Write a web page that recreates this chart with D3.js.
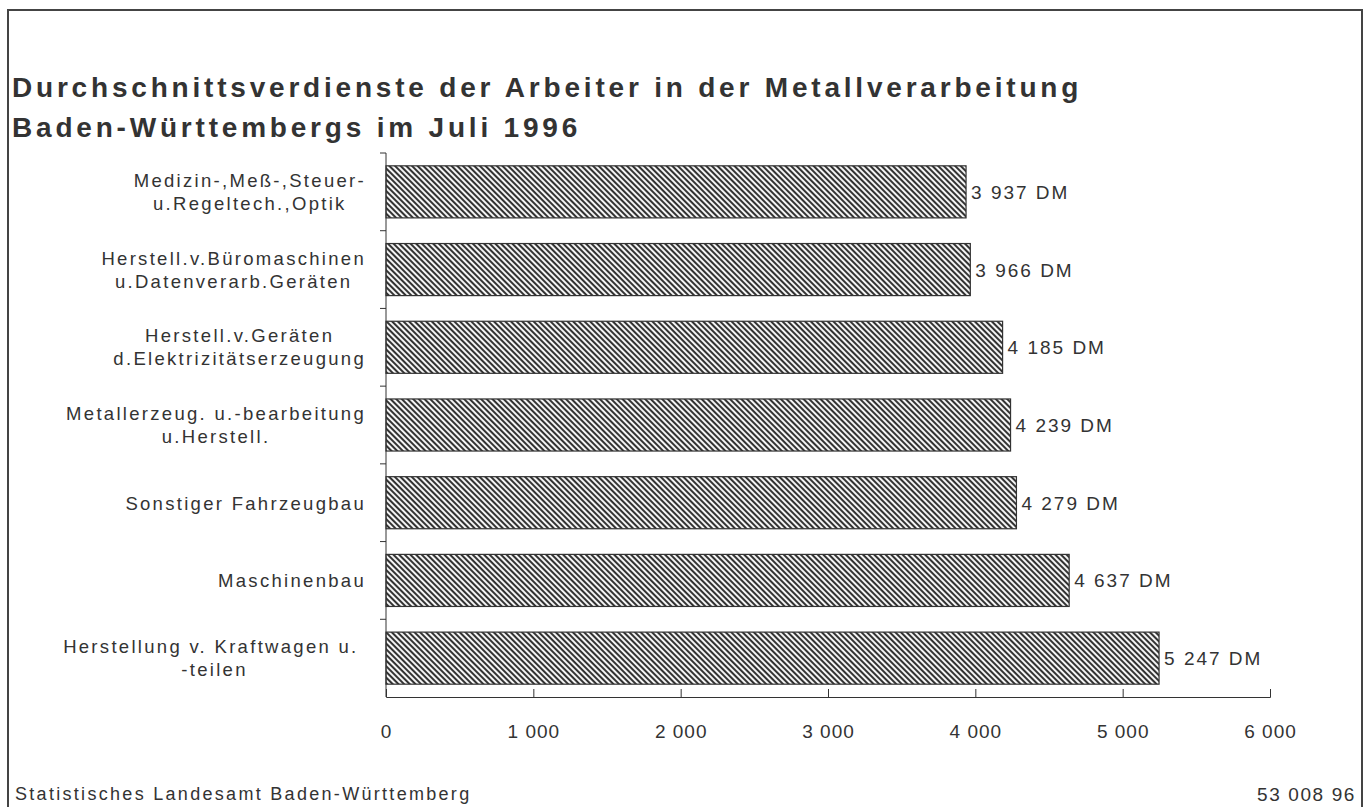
<!DOCTYPE html>
<html lang="de">
	<head>
		<meta charset="utf-8">
		<title>Durchschnittsverdienste der Arbeiter in der Metallverarbeitung</title>
		<script type="text/javascript" src="https://d3js.org/d3.v7.min.js"></script>
		<style type="text/css">
			body{
				margin: 0;
				background: #fff;
			}
			text{
				font-family: "Liberation Sans", Arial, sans-serif;
				fill: #333;
				white-space: pre;
			}
		</style>
	</head>
	<body>
		<script type="text/javascript">

			//Width and height
			var w = 1368;
			var h = 807;

			//Data
			var categories = [
				["Medizin-,Meß-,Steuer-", "u.Regeltech.,Optik"],
				["Herstell.v.Büromaschinen", "u.Datenverarb.Geräten"],
				["Herstell.v.Geräten", "d.Elektrizitätserzeugung"],
				["Metallerzeug. u.-bearbeitung", "u.Herstell."],
				["Sonstiger Fahrzeugbau"],
				["Maschinenbau"],
				["Herstellung v. Kraftwagen u. ", "-teilen"]
			];
			var values = [3937, 3966, 4185, 4239, 4279, 4637, 5247];
			var xTicks = [0, 1000, 2000, 3000, 4000, 5000, 6000];
			var titleLines = ["Durchschnittsverdienste der Arbeiter in der Metallverarbeitung",
			                  "Baden-Württembergs im Juli 1996"];
			var source = "Statistisches Landesamt Baden-Württemberg";
			var code = "53 008 96";

			var fmt = function(v) {
				return d3.format(",")(v).replace(/,/g, " ");
			};

			//Scales
			var xScale = d3.scaleLinear()
						   .domain([0, 6000])
						   .range([386, 1270]);

			var yScale = d3.scaleBand()
						   .domain(d3.range(categories.length))
						   .range([153, 697])
						   .paddingInner(0.33)
						   .paddingOuter(0.165);

			//Create SVG element
			var svg = d3.select("body")
						.append("svg")
						.attr("width", w)
						.attr("height", h);

			//Hatch pattern
			var pat = svg.append("defs")
						 .append("pattern")
						 .attr("id", "hatch")
						 .attr("patternUnits", "userSpaceOnUse")
						 .attr("width", 4)
						 .attr("height", 4)
						 .attr("patternTransform", "rotate(45)");
			pat.append("rect")
			   .attr("width", 4)
			   .attr("height", 4)
			   .attr("fill", "#f4f4f4");
			pat.append("line")
			   .attr("x1", 0).attr("y1", 2)
			   .attr("x2", 4).attr("y2", 2)
			   .attr("stroke", "#333")
			   .attr("stroke-width", 2);

			//Frame
			svg.append("path")
			   .attr("d", "M8,810 L8,10 L1362,10 L1362,810")
			   .attr("fill", "none")
			   .attr("stroke", "#444")
			   .attr("stroke-width", 2);

			//Title
			svg.selectAll("text.title")
			   .data(titleLines)
			   .enter()
			   .append("text")
			   .attr("class", "title")
			   .attr("x", 12)
			   .attr("y", function(d, i) { return 97 + i * 40; })
			   .attr("font-size", "28px")
			   .attr("font-weight", "bold")
			   .attr("letter-spacing", "3.8px")
			   .text(function(d) { return d; });

			//Bars
			svg.selectAll("rect.bar")
			   .data(values)
			   .enter()
			   .append("rect")
			   .attr("class", "bar")
			   .attr("x", xScale(0))
			   .attr("y", function(d, i) { return yScale(i); })
			   .attr("width", function(d) { return xScale(d) - xScale(0); })
			   .attr("height", yScale.bandwidth())
			   .attr("fill", "url(#hatch)")
			   .attr("stroke", "#333")
			   .attr("stroke-width", 1.2);

			//Value labels
			svg.selectAll("text.value")
			   .data(values)
			   .enter()
			   .append("text")
			   .attr("class", "value")
			   .attr("x", function(d) { return xScale(d) + 5; })
			   .attr("y", function(d, i) { return yScale(i) + yScale.bandwidth() / 2 + 7; })
			   .attr("font-size", "19px")
			   .attr("letter-spacing", "2px")
			   .text(function(d) { return fmt(d) + " DM"; });

			//Y axis (ticks on band boundaries)
			var step = yScale.step();
			var yAxis = svg.append("g");
			yAxis.append("line")
				 .attr("x1", xScale(0)).attr("x2", xScale(0))
				 .attr("y1", 153).attr("y2", 697)
				 .attr("stroke", "#333");
			yAxis.selectAll("line.tick")
				 .data(d3.range(categories.length))
				 .enter()
				 .append("line")
				 .attr("class", "tick")
				 .attr("x1", xScale(0) - 6).attr("x2", xScale(0))
				 .attr("y1", function(d) { return 153 + d * step; })
				 .attr("y2", function(d) { return 153 + d * step; })
				 .attr("stroke", "#333");

			//Category labels: block right-aligned, lines centred in block
			var labels = svg.selectAll("g.cat")
							.data(categories)
							.enter()
							.append("g")
							.attr("class", "cat");
			labels.each(function(d, i) {
				var g = d3.select(this);
				var yc = yScale(i) + yScale.bandwidth() / 2;
				var ts = g.selectAll("text")
						  .data(d)
						  .enter()
						  .append("text")
						  .attr("font-size", "18.5px")
						  .attr("letter-spacing", "2.3px")
						  .attr("text-anchor", "middle")
						  .attr("y", function(t, j) {
						  	return d.length === 1 ? yc + 7 : yc - 5 + j * 23;
						  })
						  .text(function(t) { return t; });
				var maxW = 0;
				ts.each(function() { maxW = Math.max(maxW, this.getComputedTextLength()); });
				ts.attr("x", 366 - maxW / 2);
			});

			//X axis
			var xAxis = d3.axisBottom(xScale)
						  .tickValues(xTicks)
						  .tickSize(-8)
						  .tickPadding(28)
						  .tickFormat(fmt);
			var gx = svg.append("g")
						.attr("transform", "translate(0,697)")
						.call(xAxis);
			gx.selectAll("path, line").attr("stroke", "#333");
			gx.selectAll("text")
			  .attr("font-size", "19px")
			  .attr("letter-spacing", "1px")
			  .attr("fill", "#333")
			  .style("font-family", "'Liberation Sans', Arial, sans-serif");

			//Footer
			svg.append("text")
			   .attr("x", 15)
			   .attr("y", 800)
			   .attr("font-size", "18px")
			   .attr("letter-spacing", "2.3px")
			   .text(source);
			svg.append("text")
			   .attr("x", 1356)
			   .attr("y", 801)
			   .attr("text-anchor", "end")
			   .attr("font-size", "19px")
			   .attr("letter-spacing", "1.6px")
			   .text(code);

		</script>
	</body>
</html>
